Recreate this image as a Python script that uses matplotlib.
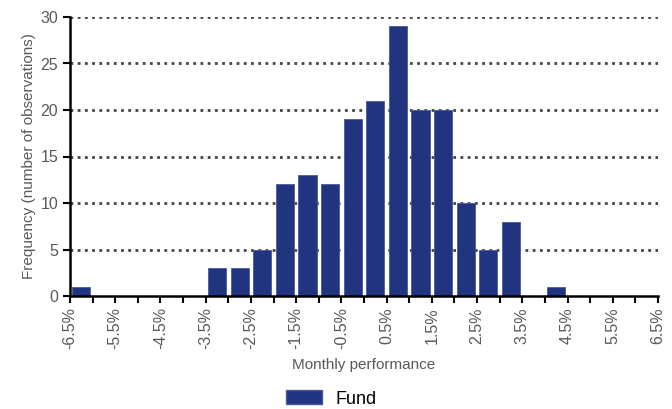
import matplotlib.pyplot as plt
import numpy as np
from matplotlib.patches import Patch

plt.rcParams['font.family'] = ['Liberation Sans', 'DejaVu Sans']

# bins of 0.5% from -6.5% to 6.5%
bin_left = np.arange(-6.5, 6.5, 0.5)
counts = [1, 0, 0, 0, 0, 0, 3, 3, 5, 12, 13, 12, 19, 21, 29, 20, 20, 10, 5, 8, 0, 1, 0, 0, 0, 0]
tick_vals = np.arange(-6.5, 6.6, 1.0)
tick_labels = ['%.1f%%' % v for v in tick_vals]
series_name = 'Fund'

bar_color = '#21347f'
grey = '#595959'

fig = plt.figure(figsize=(6.72, 4.09), dpi=100)
ax = fig.add_axes([70 / 672, 1 - 296 / 409, 588 / 672, 279 / 409])

centers = bin_left + 0.25
ax.bar(centers, counts, width=0.4, color=bar_color, edgecolor='#4a5a9a', linewidth=0.6, zorder=3)

ax.set_xlim(-6.5, 6.5)
ax.set_ylim(0, 30)
ax.set_yticks([0, 5, 10, 15, 20, 25, 30])
ax.set_xticks(tick_vals)
ax.set_xticklabels(tick_labels, rotation=90)
ax.set_xticks(np.arange(-6.0, 6.5, 1.0), minor=True)

for y in [5, 10, 15, 20, 25, 30]:
    ax.axhline(y, color='#444444', linestyle=(0, (1, 1.6)), linewidth=2.0, zorder=1)

for s in ['top', 'right']:
    ax.spines[s].set_visible(False)
for s in ['left', 'bottom']:
    ax.spines[s].set_color('black')
    ax.spines[s].set_linewidth(1.8)
    ax.spines[s].set_zorder(4)

ax.tick_params(axis='both', which='both', direction='out', color='black', width=1.5, length=5,
               labelcolor=grey, labelsize=11.5)
ax.tick_params(axis='x', which='both', pad=3)

ax.set_ylabel('Frequency (number of observations)', color=grey, fontsize=11, labelpad=3)
ax.set_xlabel('Monthly performance', color=grey, fontsize=11, labelpad=6)

fig.legend(handles=[Patch(facecolor=bar_color, edgecolor='#4a5a9a')], labels=[series_name],
           loc='center', bbox_to_anchor=(0.493, 0.025), frameon=False, fontsize=13,
           handlelength=2.0, handleheight=0.85, handletextpad=0.7)

fig.savefig('out.png', dpi=100)
